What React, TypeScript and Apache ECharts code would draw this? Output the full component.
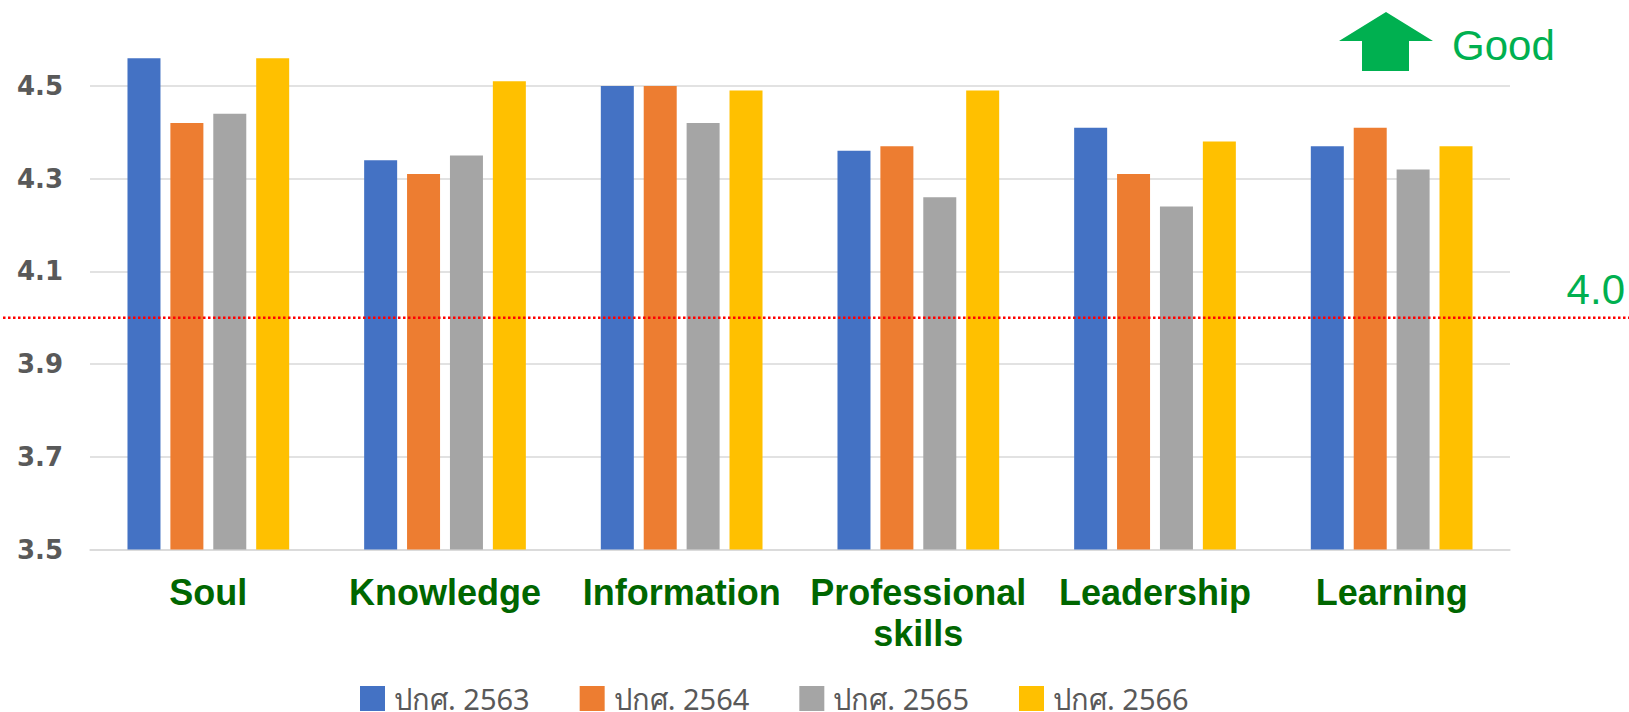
import React, { useEffect, useRef } from 'react';
import * as echarts from 'echarts';

const categories = ['Soul', 'Knowledge', 'Information', 'Professional\nskills', 'Leadership', 'Learning'];
const seriesNames = ['ปกศ. 2563', 'ปกศ. 2564', 'ปกศ. 2565', 'ปกศ. 2566'];
const y2563 = [4.56, 4.34, 4.5, 4.36, 4.41, 4.37];
const y2564 = [4.42, 4.31, 4.5, 4.37, 4.31, 4.41];
const y2565 = [4.44, 4.35, 4.42, 4.26, 4.24, 4.32];
const y2566 = [4.56, 4.51, 4.49, 4.49, 4.38, 4.37];
const seriesValues = [y2563, y2564, y2565, y2566];
const colors = ['#4472C4', '#ED7D31', '#A5A5A5', '#FFC000'];
const yMin = 3.5;
const yMax = 4.6;
const yStep = 0.2;
const threshold = 4.0;
const thresholdLabel = '4.0';
const goodLabel = 'Good';

export default function App() {
  const ref = useRef<HTMLDivElement>(null);
  useEffect(() => {
    if (!ref.current) return;
    const chart = echarts.init(ref.current, null, { renderer: 'svg' });
    const option: any = {
      animation: false,
      backgroundColor: '#ffffff',
      grid: { left: 90, right: 119, top: 39.6, bottom: 162.4, containLabel: false },
      legend: {
        data: seriesNames,
        left: 360,
        top: 684,
        padding: 0,
        icon: 'rect',
        itemWidth: 25,
        itemHeight: 25,
        itemGap: 50,
        textStyle: {
          fontSize: 29,
          lineHeight: 25,
          color: '#595959',
          fontFamily: "'Liberation Sans Narrow', 'Noto Sans', sans-serif",
          padding: [0, 0, 0, 4],
        },
      },
      xAxis: {
        type: 'category',
        data: categories,
        axisLine: { show: true, lineStyle: { color: '#D9D9D9', width: 1.5 } },
        axisTick: { show: false },
        axisLabel: {
          interval: 0,
          margin: 22,
          fontSize: 36,
          fontWeight: 'bold',
          color: '#006600',
          fontFamily: "'Liberation Sans', Arial, sans-serif",
          lineHeight: 41,
        },
      },
      yAxis: {
        type: 'value',
        min: yMin,
        max: yMax,
        interval: yStep,
        axisLine: { show: false },
        axisTick: { show: false },
        splitLine: { showMaxLine: false, lineStyle: { color: '#D9D9D9', width: 1.5 } },
        axisLabel: {
          showMaxLabel: false,
          margin: 27,
          fontSize: 26,
          fontWeight: 'bold',
          color: '#595959',
          fontFamily: "'DejaVu Sans', sans-serif",
          formatter: (v: number) => v.toFixed(1),
        },
      },
      series: seriesNames.map((name, i) => ({
        name,
        type: 'bar',
        data: seriesValues[i],
        barWidth: 33,
        barGap: '30%',
        itemStyle: { color: colors[i] },
      })),
    };
    chart.setOption(option);
    const py = chart.convertToPixel({ yAxisIndex: 0 }, threshold) as number;
    chart.setOption({
      graphic: [
        {
          type: 'line',
          shape: { x1: 3, y1: py, x2: 1629, y2: py },
          style: { stroke: '#FF0000', lineWidth: 2.5, lineDash: [2.5, 2.5] },
          z: 10,
        },
        {
          type: 'text',
          x: 1625,
          y: py - 28,
          style: { text: thresholdLabel, fontSize: 42, fill: '#00B050', align: 'right', verticalAlign: 'middle', fontFamily: "'Liberation Sans', Arial, sans-serif" },
        },
        {
          type: 'polygon',
          shape: { points: [[1339, 41], [1386, 12], [1433, 41], [1409, 41], [1409, 71], [1362, 71], [1362, 41]] },
          style: { fill: '#00B050' },
        },
        {
          type: 'text',
          x: 1452,
          y: 45,
          style: { text: goodLabel, fontSize: 42, fill: '#00B050', align: 'left', verticalAlign: 'middle', fontFamily: "'Liberation Sans', Arial, sans-serif" },
        },
      ],
    });
    return () => chart.dispose();
  }, []);
  return <div ref={ref} style={{ position: 'fixed', left: 0, top: 0, width: 1629, height: 712 }} />;
}
